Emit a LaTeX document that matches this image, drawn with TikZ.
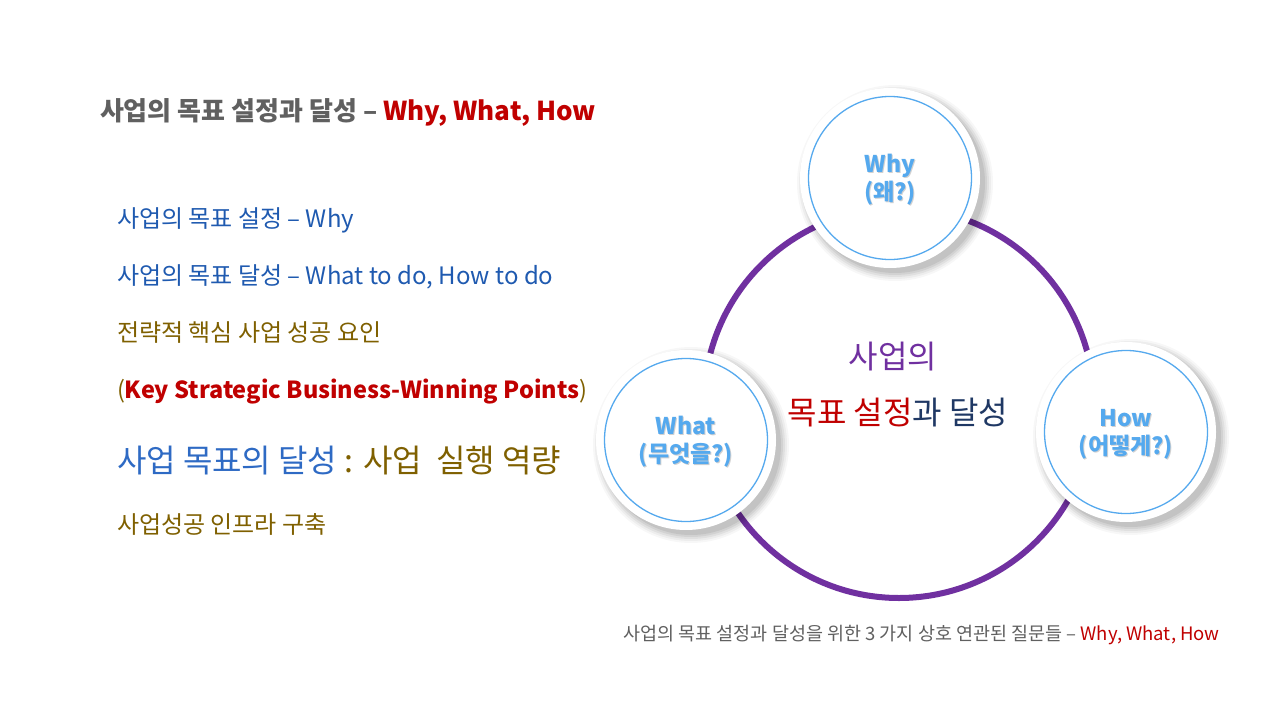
\documentclass[tikz,border=0pt]{standalone}
\usepackage{fontspec}
\setmainfont{Noto Sans CJK KR}
\usetikzlibrary{calc}
\definecolor{tgray}{HTML}{606060}
\definecolor{dred}{HTML}{C00000}
\definecolor{lblue}{HTML}{1F5AB0}
\definecolor{bblue}{HTML}{2E6AC4}
\definecolor{olive}{HTML}{7F6000}
\definecolor{ringp}{HTML}{7030A0}
\definecolor{navy}{HTML}{1F3864}
\definecolor{cblue}{HTML}{55A9EE}
\tikzset{
  txt/.style={anchor=base west, inner sep=0pt, outer sep=0pt},
  listfont/.style={font=\fontsize{24}{28}\selectfont},
  bubble/.style={circle, fill=white, minimum size=180pt, inner sep=0pt},
  bubbleline/.style={circle, draw=cblue, line width=1.3pt, minimum size=163pt, inner sep=0pt},
  bubtxt/.style={text=cblue, font=\fontsize{23}{28}\selectfont\bfseries, align=center, inner sep=0pt},
  shadowtxt/.style={text=black!18, font=\fontsize{23}{28}\selectfont\bfseries, align=center, inner sep=0pt}
}
\newcommand{\mybubble}[3]{%
  \foreach \r/\o in {98/0.03,96/0.04,94/0.05,92/0.06,90/0.07}{
    \fill[black, opacity=\o] ($(#1)+(5,5)$) circle (\r);
  }
  \node[bubble] (#2) at (#1) {};
  \node[bubbleline] (#2l) at (#1) {};
  \node[shadowtxt] at ($(#1)+(1,3)$) {#3};
  \node[bubtxt] (#2t) at ($(#1)+(0,2)$) {#3};
}
\begin{document}
\begin{tikzpicture}[x=1pt,y=-1pt]
\useasboundingbox (0,0) rectangle (1280,720);
\fill[white] (0,0) rectangle (1280,720);

% title
\node[txt, font=\fontsize{26}{30}\selectfont\bfseries] (title) at (100,120)
  {\textcolor{tgray}{사업의 목표 설정과 달성 –} \textcolor{dred}{Why, What, How}};

% list
\node[txt, text=lblue, listfont] (l1) at (117,227) {사업의 목표 설정 – Why};
\node[txt, text=lblue, listfont] (l2) at (117,284) {사업의 목표 달성 – What to do, How to do};
\node[txt, text=olive, listfont] (l3) at (117,341) {전략적 핵심 사업 성공 요인};
\node[txt, text=olive, font=\fontsize{23.5}{28}\selectfont] (l4) at (117,398) {(\textcolor{dred}{\bfseries Key Strategic Business-Winning Points})};
\node[txt, font=\fontsize{32}{36}\selectfont] (l5) at (117,472) {\textcolor{bblue}{사업 목표의 달성} \textcolor{olive}{: 사업 \ 실행 역량}};
\node[txt, text=olive, listfont] (l6) at (117,533) {사업성공 인프라 구축};

% ring
\coordinate (c) at (899,403);
\draw[ringp, line width=6pt] (c) circle (195);

% bubbles
\mybubble{890,178}{why}{Why\\(왜?)}
\mybubble{686,440}{what}{What\\(무엇을?)}
\mybubble{1126,432}{how}{How\\(어떻게?)}

% center text
\node[anchor=base, inner sep=0pt, text=ringp, font=\fontsize{32}{36}\selectfont] (ct1) at (893,368) {사업의};
\node[anchor=base, inner sep=0pt, font=\fontsize{32}{36}\selectfont] (ct2) at (898,424) {\textcolor{dred}{목표 설정}\textcolor{navy}{과 달성}};

% caption
\node[anchor=base east, inner sep=0pt, font=\fontsize{18.5}{22}\selectfont] (cap) at (1220,640)
  {\textcolor{tgray}{사업의 목표 설정과 달성을 위한 3 가지 상호 연관된 질문들 –} \textcolor{dred}{Why, What, How}};
\end{tikzpicture}
\end{document}
